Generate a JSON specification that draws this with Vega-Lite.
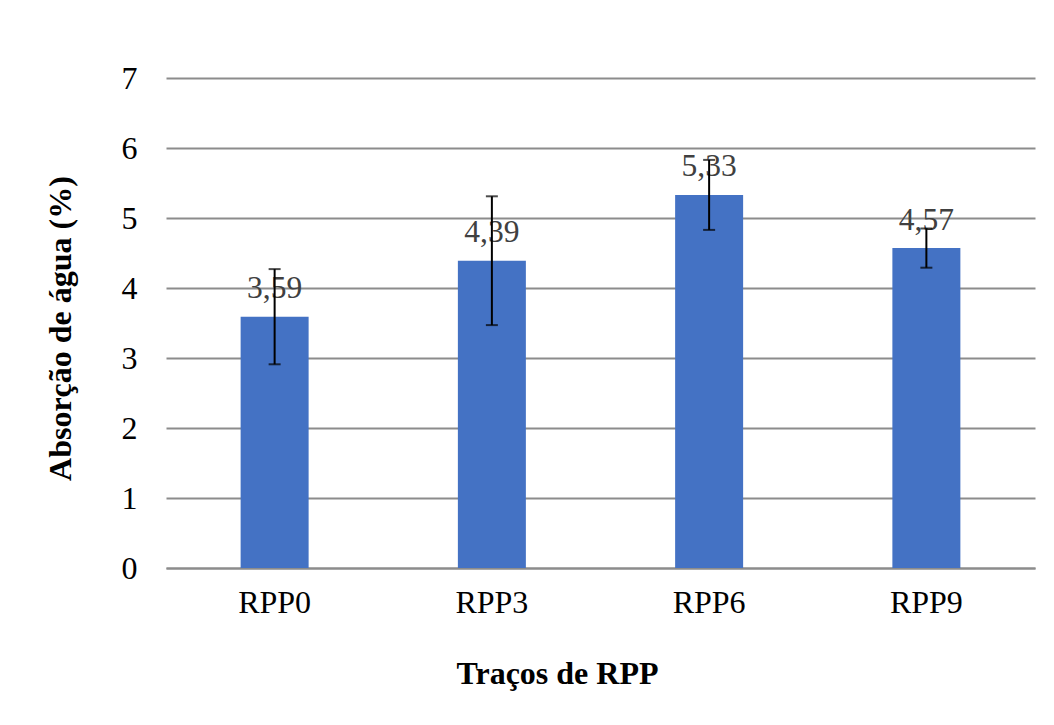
{
  "$schema": "https://vega.github.io/schema/vega-lite/v6.json",
  "width": 869,
  "height": 490,
  "autosize": {"type": "none"},
  "padding": {"left": 166, "top": 78, "right": 19, "bottom": 157},
  "background": "white",
  "config": {
    "view": {"stroke": null},
    "font": "Liberation Serif",
    "axis": {"labelFont": "Liberation Serif", "titleFont": "Liberation Serif"}
  },
  "data": {
    "values": [
      {"traco": "RPP0", "absorcao": 3.59, "rotulo": "3,59", "inferior": 2.91, "superior": 4.27},
      {"traco": "RPP3", "absorcao": 4.39, "rotulo": "4,39", "inferior": 3.47, "superior": 5.31},
      {"traco": "RPP6", "absorcao": 5.33, "rotulo": "5,33", "inferior": 4.83, "superior": 5.83},
      {"traco": "RPP9", "absorcao": 4.57, "rotulo": "4,57", "inferior": 4.29, "superior": 4.85}
    ]
  },
  "encoding": {
    "x": {
      "field": "traco",
      "type": "nominal",
      "sort": null,
      "scale": {"paddingInner": 0.687, "paddingOuter": 0.3435},
      "axis": {
        "title": "Traços de RPP",
        "titleFontSize": 32,
        "titleFontWeight": "bold",
        "titleColor": "black",
        "titlePadding": 40,
        "titleX": 391,
        "labelAngle": 0,
        "labelFontSize": 32,
        "labelColor": "black",
        "labelPadding": 19,
        "ticks": false,
        "domainColor": "#8c8c8c",
        "domainWidth": 2,
        "grid": false
      }
    }
  },
  "layer": [
    {
      "mark": {"type": "bar", "color": "#4472C4"},
      "encoding": {
        "y": {
          "field": "absorcao",
          "type": "quantitative",
          "scale": {"domain": [0, 7], "nice": false},
          "axis": {
            "title": "Absorção de água (%)",
            "titleFontSize": 32,
            "titleFontWeight": "bold",
            "titleColor": "black",
            "titlePadding": 44,
            "titleY": 250,
            "values": [0, 1, 2, 3, 4, 5, 6, 7],
            "format": "d",
            "labelFontSize": 32,
            "labelColor": "black",
            "labelPadding": 29,
            "ticks": false,
            "domain": false,
            "grid": true,
            "gridColor": "#8c8c8c",
            "gridWidth": 2
          }
        }
      }
    },
    {
      "mark": {"type": "text", "fontSize": 31.5, "color": "#404040", "baseline": "alphabetic", "dy": -18.5},
      "encoding": {
        "y": {"field": "absorcao", "type": "quantitative"},
        "text": {"field": "rotulo"}
      }
    },
    {
      "mark": {"type": "rule", "color": "black", "strokeWidth": 2},
      "encoding": {
        "y": {"field": "inferior", "type": "quantitative"},
        "y2": {"field": "superior"}
      }
    },
    {
      "mark": {"type": "tick", "color": "black", "thickness": 2, "size": 12},
      "encoding": {
        "y": {"field": "inferior", "type": "quantitative"}
      }
    },
    {
      "mark": {"type": "tick", "color": "black", "thickness": 2, "size": 12},
      "encoding": {
        "y": {"field": "superior", "type": "quantitative"}
      }
    }
  ]
}
